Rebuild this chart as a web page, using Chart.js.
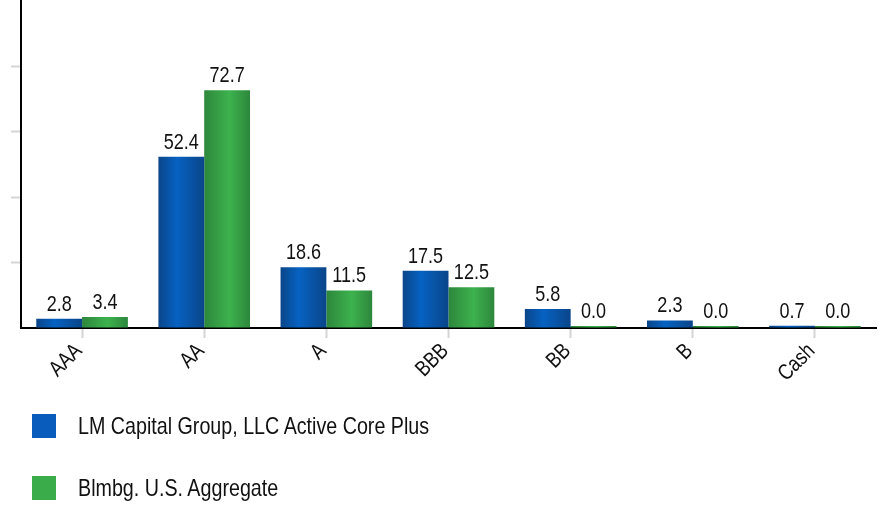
<!DOCTYPE html>
<html>
<head>
<meta charset="utf-8">
<script src="https://cdn.jsdelivr.net/npm/chart.js@4/dist/chart.umd.min.js"></script>
<style>
  body { margin: 0; background: #fff; }
  #wrap { position: relative; width: 884px; height: 505px; }
  #legend { position: absolute; left: 32px; top: 414px; font-family: "Liberation Sans", Arial, sans-serif; font-size: 24px; color: #111; }
  .item { display: flex; align-items: center; height: 24px; margin-bottom: 38px; white-space: nowrap; }
  .box { width: 24px; height: 24px; margin-right: 22px; flex: none; }
  .txt { display: inline-block; transform: scaleX(0.82); transform-origin: left center; }
</style>
</head>
<body>
<div id="wrap">
  <canvas id="myChart" width="884" height="505"></canvas>
  <div id="legend"></div>
</div>
<script>
const categories = ['AAA', 'AA', 'A', 'BBB', 'BB', 'B', 'Cash'];
const portfolio = [2.8, 52.4, 18.6, 17.5, 5.8, 2.3, 0.7];
const benchmark = [3.4, 72.7, 11.5, 12.5, 0.0, 0.0, 0.0];
const seriesNames = ['LM Capital Group, LLC Active Core Plus', 'Blmbg. U.S. Aggregate'];
const legendColors = ['#0a5cbc', '#3aac4a'];
// edge / middle colours for the rounded-look bars
const shades = [
    ['#0a4589', '#0662c2'],
    ['#2d873c', '#3db24d']
];
const FONT = '"Liberation Sans", Arial, sans-serif';
const NARROW = 0.82; // squeeze text to look like Arial Narrow

const ctx = document.getElementById('myChart').getContext('2d');

const barShade = {
    id: 'barShade',
    beforeDatasetsDraw(chart) {
        const c = chart.ctx;
        chart.data.datasets.forEach((ds, i) => {
            chart.getDatasetMeta(i).data.forEach(bar => {
                const w = bar.width;
                const x0 = bar.x - w / 2;
                const g = c.createLinearGradient(x0, 0, x0 + w, 0);
                g.addColorStop(0, shades[i][0]);
                g.addColorStop(i === 0 ? 0.4 : 0.55, shades[i][1]);
                g.addColorStop(1, shades[i][0]);
                bar.options = Object.assign({}, bar.options, { backgroundColor: g });
            });
        });
    }
};

const valueLabels = {
    id: 'valueLabels',
    afterDatasetsDraw(chart) {
        const c = chart.ctx;
        c.save();
        c.font = '22px ' + FONT;
        c.fillStyle = '#111';
        c.textAlign = 'center';
        c.textBaseline = 'alphabetic';
        chart.data.datasets.forEach((ds, i) => {
            chart.getDatasetMeta(i).data.forEach((bar, j) => {
                c.save();
                c.translate(bar.x, Math.min(bar.y, bar.base - 2) - 8);
                c.scale(NARROW, 1);
                c.fillText(ds.data[j].toFixed(1), 0, 0);
                c.restore();
            });
        });
        c.restore();
    }
};

// rotated category labels, drawn at the x scale's tick positions
const xLabels = {
    id: 'xLabels',
    afterDraw(chart) {
        const c = chart.ctx;
        const xs = chart.scales.x;
        c.save();
        c.font = '22px ' + FONT;
        c.fillStyle = '#111';
        c.textAlign = 'right';
        c.textBaseline = 'alphabetic';
        xs.ticks.forEach((t, i) => {
            c.save();
            c.translate(xs.getPixelForTick(i) + 1, xs.top + 24);
            c.rotate(-Math.PI / 4);
            c.scale(NARROW, 1);
            c.fillText(categories[t.value], 0, 0);
            c.restore();
        });
        c.restore();
    }
};

const data = {
    labels: categories,
    datasets: [
        {
            label: seriesNames[0],
            data: portfolio,
            backgroundColor: legendColors[0],
            minBarLength: 2
        },
        {
            label: seriesNames[1],
            data: benchmark,
            backgroundColor: legendColors[1],
            minBarLength: 2
        }
    ]
};

const config = {
    type: 'bar',
    data: data,
    options: {
        responsive: false,
        animation: false,
        datasets: {
            bar: {
                barPercentage: 1,
                categoryPercentage: 0.75
            }
        },
        layout: {
            padding: { top: 1, right: 8, left: 0, bottom: 0 }
        },
        scales: {
            x: {
                afterFit(scale) { scale.height = 177; },
                border: { display: true, color: '#000', width: 2 },
                grid: {
                    offset: false,
                    drawOnChartArea: false,
                    drawTicks: true,
                    tickLength: 10,
                    tickColor: '#d4d4d4',
                    tickWidth: 2
                },
                ticks: {
                    display: false
                }
            },
            y: {
                min: 0,
                max: 100,
                afterFit(scale) { scale.width = 21; },
                border: { display: true, color: '#000', width: 2 },
                grid: {
                    drawOnChartArea: false,
                    drawTicks: true,
                    tickLength: 10,
                    tickWidth: 2,
                    tickColor: (c) => (c.tick && (c.tick.value === 0 || c.tick.value === 100)) ? 'rgba(0,0,0,0)' : '#d4d4d4'
                },
                ticks: {
                    stepSize: 20,
                    display: false
                }
            }
        },
        plugins: {
            legend: { display: false },
            tooltip: { enabled: false }
        }
    },
    plugins: [barShade, valueLabels, xLabels]
};

const myChart = new Chart(ctx, config);

const legend = document.getElementById('legend');
myChart.data.datasets.forEach((ds, i) => {
    const item = document.createElement('div');
    item.className = 'item';
    const box = document.createElement('span');
    box.className = 'box';
    box.style.background = legendColors[i];
    const txt = document.createElement('span');
    txt.className = 'txt';
    txt.textContent = ds.label;
    item.appendChild(box);
    item.appendChild(txt);
    legend.appendChild(item);
});
</script>
</body>
</html>
